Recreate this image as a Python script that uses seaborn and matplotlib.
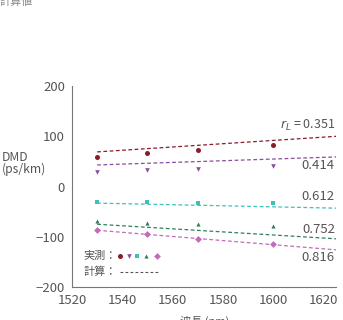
import numpy as np
import pandas as pd
import matplotlib.pyplot as plt
import seaborn as sns

# === DATA ===
wavelength = [1530, 1550, 1570, 1600]
fit_x = [1530, 1625]
series = ["0.351", "0.414", "0.612", "0.752", "0.816"]
measured = {
    "0.351": [58, 66, 72, 83],
    "0.414": [28, 32, 35, 41],
    "0.612": [-31, -31, -33, -32],
    "0.752": [-68, -72, -75, -79],
    "0.816": [-87, -95, -104, -115],
}
calc = {
    "0.351": [69, 100],
    "0.414": [43, 59],
    "0.612": [-33, -43],
    "0.752": [-75, -104],
    "0.816": [-87, -126],
}
label_y = [122, 41, -20, -85, -141]

colors = ["#8a1c2c", "#8a4d9c", "#3fc0b6", "#2f7f5c", "#c06cb6"]
markers = ["o", "v", "s", "^", "D"]
msizes = [13, 11, 12, 9, 12]

sns.set_theme(style="white")
plt.rcParams["font.family"] = ["Noto Sans CJK JP", "DejaVu Sans"]

fig = plt.figure(figsize=(3.43, 3.20), dpi=100)
ax = fig.add_axes([0.21, 0.103, 0.77, 0.628])

rows = []
for s in series:
    for x, y in zip(wavelength, measured[s]):
        rows.append({"wl": x, "dmd": y, "s": s})
df = pd.DataFrame(rows)

for i, s in enumerate(series):
    sub = df[df["s"] == s]
    sns.scatterplot(data=sub, x="wl", y="dmd", ax=ax, color=colors[i],
                    marker=markers[i], s=msizes[i], linewidth=0, legend=False)
    sns.lineplot(x=fit_x, y=calc[s], ax=ax, color=colors[i], lw=0.9,
                 linestyle=(0, (3, 2)), legend=False)

ax.set_xlim(1520, 1625)
ax.set_ylim(-200, 200)
ax.set_xticks([1520, 1540, 1560, 1580, 1600, 1620])
ax.set_yticks([-200, -100, 0, 100, 200])
ax.set_yticklabels(["\u2212200", "\u2212100", "0", "100", "200"])
ax.tick_params(direction="in", length=4, width=0.7, color="#777777",
               labelsize=9.5, labelcolor="#555555")
ax.tick_params(axis="x", pad=5)
ax.tick_params(axis="y", pad=5)
for sp in ["top", "right"]:
    ax.spines[sp].set_visible(False)
for sp in ["left", "bottom"]:
    ax.spines[sp].set_color("#777777")
    ax.spines[sp].set_linewidth(0.8)
ax.set_xlabel("")
ax.set_ylabel("")

# right-hand labels
ax.text(1624.5, label_y[0], r"$r_L$ = 0.351", ha="right", va="center",
        fontsize=9, color="#555555")
for s, y in zip(series[1:], label_y[1:]):
    ax.text(1624.5, y, s, ha="right", va="center", fontsize=9.5, color="#555555")

# legend-like annotation
ax.text(1524.5, -138, "実測：", ha="left", va="center", fontsize=8, color="#555555")
ax.text(1524.5, -170, "計算：", ha="left", va="center", fontsize=8, color="#555555")
leg_x = [1539.2, 1542.5, 1546, 1549.6, 1553.8]
for i in range(5):
    ax.scatter(leg_x[i], -138, color=colors[i], marker=markers[i], s=msizes[i],
               linewidth=0, clip_on=False)
ax.plot([1539, 1554], [-170, -170], color="#555555", lw=0.8, linestyle=(0, (2.5, 2)))

fig.text(0.005, 0.488, "DMD\n(ps/km)", ha="left", va="center", fontsize=8.8,
         color="#555555", linespacing=0.9)
fig.text(0.0, 0.995, "計算値", ha="left", va="center", fontsize=8, color="#888888")
fig.text(0.598, -0.003, "波長 (nm)", ha="center", va="center", fontsize=8,
         color="#555555")

fig.savefig("out.png", dpi=100)
